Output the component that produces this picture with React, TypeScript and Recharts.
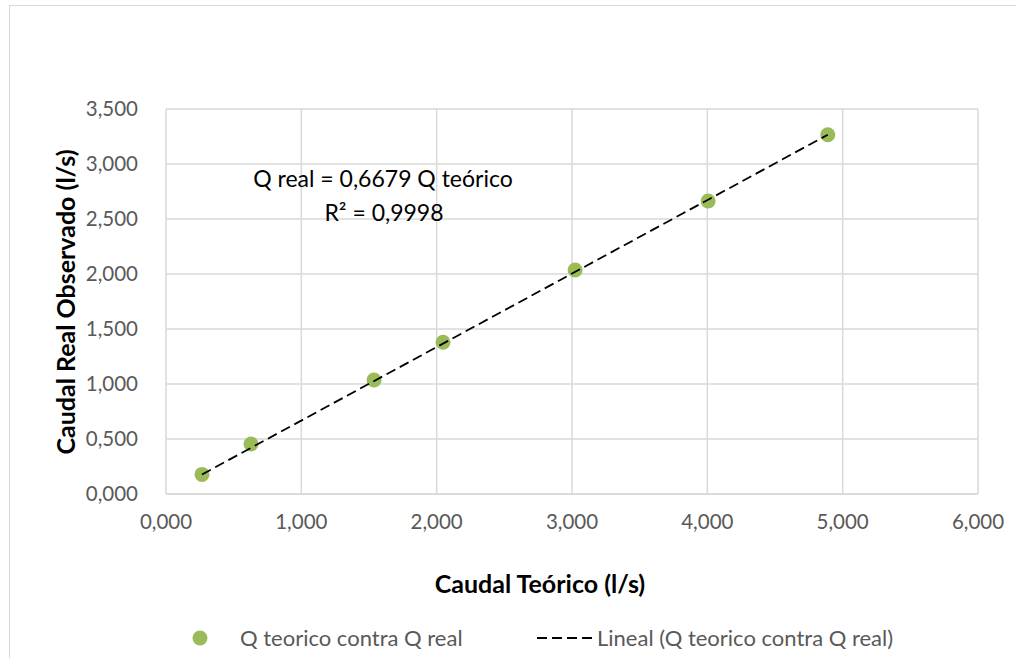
import React from 'react';
import { ScatterChart, Scatter, XAxis, YAxis, CartesianGrid, Customized } from 'recharts';

const qTeorico = [0.266, 0.628, 1.537, 2.047, 3.023, 4.006, 4.89];
const qReal = [0.178, 0.455, 1.036, 1.38, 2.036, 2.664, 3.266];
const slope = 0.6679;
const xTicks = [0, 1, 2, 3, 4, 5, 6];
const yTicks = [0, 0.5, 1, 1.5, 2, 2.5, 3, 3.5];

const points = qTeorico.map((x, i) => ({ x, y: qReal[i] }));
const xMin = Math.min(...qTeorico);
const xMax = Math.max(...qTeorico);
const trend = [
  { x: xMin, y: slope * xMin },
  { x: xMax, y: slope * xMax },
];

const FONT = 'Lato, "Open Sans", sans-serif';
const fmt = (v: number) => v.toFixed(3).replace('.', ',');

const Annotations = () => (
  <g fontFamily={FONT}>
    <text x={383} y={187} textAnchor="middle" fontSize={23} fill="#000">
      Q real = 0,6679 Q teórico
    </text>
    <text x={384} y={221} textAnchor="middle" fontSize={23} fill="#000">
      R² = 0,9998
    </text>
    <text x={540} y={593} textAnchor="middle" fontSize={25} fontWeight="bold" fill="#000">
      Caudal Teórico (l/s)
    </text>
    <text
      x={0}
      y={0}
      transform="translate(75,302) rotate(-90)"
      textAnchor="middle"
      fontSize={25}
      fontWeight="bold"
      fill="#000"
    >
      Caudal Real Observado (l/s)
    </text>
  </g>
);

const LegendContent = () => (
  <svg width={1016} height={40} style={{ display: 'block' }}>
    <g fontFamily={FONT} fontSize={22} fill="#595959">
      <circle cx={200} cy={18} r={7.5} fill="#9BBB59" />
      <text x={240} y={26}>Q teorico contra Q real</text>
      <line x1={537} y1={18} x2={592} y2={18} stroke="#000" strokeWidth={1.8} strokeDasharray="10 5" />
      <text x={597} y={26}>Lineal (Q teorico contra Q real)</text>
    </g>
  </svg>
);

export default function App() {
  return (
    <div style={{ position: 'absolute', left: 0, top: 0, width: 1016, height: 658, background: '#fff', overflow: 'hidden' }}>
      <div
        style={{
          position: 'absolute',
          left: 9,
          top: 5,
          width: 1020,
          height: 670,
          borderLeft: '1px solid #d9d9d9',
          borderTop: '1px solid #d9d9d9',
        }}
      />
      <div style={{ position: 'absolute', left: 0, top: 0 }}>
        <ScatterChart
          width={1016}
          height={658}
          margin={{ top: 109, right: 38, bottom: 134, left: 86 }}
        >
          <CartesianGrid stroke="#d9d9d9" strokeWidth={1.5} />
          <XAxis
            type="number"
            dataKey="x"
            domain={[0, 6]}
            ticks={xTicks}
            tickFormatter={fmt}
            axisLine={{ stroke: '#d9d9d9', strokeWidth: 1.5 }}
            tickLine={false}
            height={30}
            tickMargin={14}
            tick={{ fill: '#595959', fontSize: 20.5, fontFamily: FONT }}
            interval={0}
          />
          <YAxis
            type="number"
            dataKey="y"
            domain={[0, 3.5]}
            ticks={yTicks}
            tickFormatter={fmt}
            axisLine={false}
            tickLine={false}
            width={80}
            tickMargin={22}
            tick={{ fill: '#595959', fontSize: 20.5, fontFamily: FONT }}
            interval={0}
          />
          <Scatter
            name="Q teorico contra Q real"
            data={points}
            fill="#9BBB59"
            shape={(p: any) => <circle cx={p.cx} cy={p.cy} r={7.5} fill="#9BBB59" />}
            isAnimationActive={false}
          />
          <Scatter
            name="Lineal (Q teorico contra Q real)"
            data={trend}
            line={{ stroke: '#000', strokeWidth: 1.8, strokeDasharray: '10 5' }}
            shape={() => <g />}
            isAnimationActive={false}
          />
          <Customized component={Annotations} />
        </ScatterChart>
      </div>
      <div style={{ position: 'absolute', left: 0, top: 620 }}>
        <LegendContent />
      </div>
    </div>
  );
}
